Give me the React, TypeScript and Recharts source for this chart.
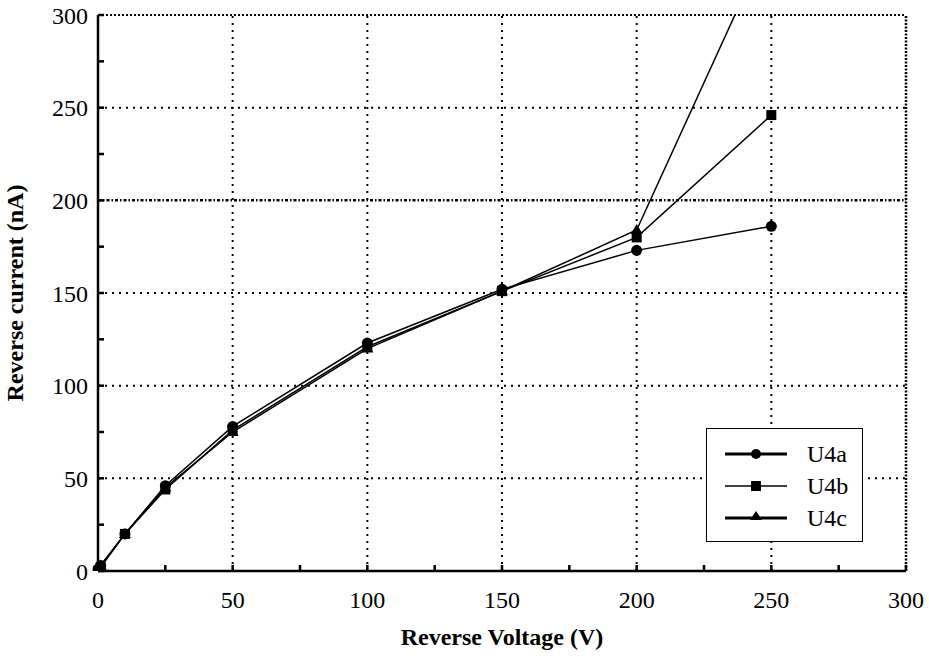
import React from "react";
import {
  LineChart,
  Line,
  XAxis,
  YAxis,
  ReferenceLine,
  Legend,
  Label,
} from "recharts";

// reverse voltage (V)
const voltage = [0, 1, 10, 25, 50, 100, 150, 200, 250];
// reverse current (nA)
const u4a = [1, 3, 20, 46, 78, 123, 152, 173, 186];
const u4b = [0, 2, 20, 44, 76, 121, 151, 180, 246];
const u4c = [1, 3, 20, 45, 75, 120, 151, 184, 343];

const axisTicks = [0, 25, 50, 75, 100, 125, 150, 175, 200, 225, 250, 275, 300];
const gridLines = [50, 100, 150, 250];

const data = voltage.map((v, i) => ({ v, u4a: u4a[i], u4b: u4b[i], u4c: u4c[i] }));

const FONT = "Times New Roman, Liberation Serif, DejaVu Serif, serif";

const Circle = (props: any) => {
  const { cx, cy } = props;
  if (cx == null || cy == null) return null;
  return <circle cx={cx} cy={cy} r={5.5} fill="#000" />;
};

const Square = (props: any) => {
  const { cx, cy } = props;
  if (cx == null || cy == null) return null;
  return <rect x={cx - 5} y={cy - 5} width={10} height={10} fill="#000" />;
};

const Triangle = (props: any) => {
  const { cx, cy } = props;
  if (cx == null || cy == null) return null;
  return <polygon points={`${cx},${cy - 6} ${cx + 6},${cy + 4} ${cx - 6},${cy + 4}`} fill="#000" />;
};

const legendItems = [
  { name: "U4a", width: 3, marker: "circle" },
  { name: "U4b", width: 1.5, marker: "square" },
  { name: "U4c", width: 3, marker: "triangle" },
];

const LegendBox = () => (
  <div
    style={{
      border: "1.5px solid #000",
      background: "#fff",
      width: 157,
      height: 114,
      boxSizing: "border-box",
      paddingTop: 9,
    }}
  >
    {legendItems.map((it) => (
      <div key={it.name} style={{ display: "flex", alignItems: "center", height: 32 }}>
        <svg width={100} height={20}>
          <line x1={18} y1={10} x2={80} y2={10} stroke="#000" strokeWidth={it.width} />
          {it.marker === "circle" && <circle cx={49} cy={10} r={5} fill="#000" />}
          {it.marker === "square" && <rect x={44} y={5} width={10} height={10} fill="#000" />}
          {it.marker === "triangle" && <polygon points="49,3 55,12 43,12" fill="#000" />}
        </svg>
        <span style={{ fontFamily: FONT, fontSize: 24, color: "#000" }}>{it.name}</span>
      </div>
    ))}
  </div>
);

export default function App() {
  const tickStyle = { fontFamily: FONT, fontSize: 24, fill: "#000" };
  const fmt = (t: number) => (t % 50 === 0 ? String(t) : "");
  return (
    <div style={{ position: "absolute", left: 0, top: 0, background: "#fff", fontFamily: FONT }}>
      <LineChart
        width={929}
        height={657}
        data={data}
        margin={{ top: 15, right: 23, left: 28, bottom: 0 }}
        style={{ fontFamily: FONT }}
      >
        <XAxis
          type="number"
          dataKey="v"
          domain={[0, 300]}
          ticks={axisTicks}
          interval={0}
          tickFormatter={fmt}
          tick={tickStyle}
          tickSize={-6}
          tickMargin={26}
          stroke="#000"
          strokeWidth={2.5}
          height={86}
        >
          <Label
            value="Reverse Voltage (V)"
            position="insideBottom"
            offset={12}
            style={{ fontFamily: FONT, fontSize: 24, fontWeight: "bold", fill: "#000" }}
          />
        </XAxis>
        <YAxis
          type="number"
          domain={[0, 300]}
          ticks={axisTicks}
          interval={0}
          allowDataOverflow
          tickFormatter={fmt}
          tick={tickStyle}
          tickSize={-6}
          tickMargin={16}
          stroke="#000"
          strokeWidth={2.5}
          width={70}
        >
          <Label
            value="Reverse current (nA)"
            angle={-90}
            position="insideLeft"
            offset={-14}
            style={{ fontFamily: FONT, fontSize: 24, fontWeight: "bold", fill: "#000", textAnchor: "middle" }}
          />
        </YAxis>
        {gridLines.map((g) => (
          <ReferenceLine key={`gx${g}`} x={g} stroke="#000" strokeWidth={2} strokeDasharray="2 5" />
        ))}
        {gridLines.map((g) => (
          <ReferenceLine key={`gy${g}`} y={g} stroke="#000" strokeWidth={2} strokeDasharray="2 5" />
        ))}
        <ReferenceLine x={200} stroke="#000" strokeWidth={2} strokeDasharray="2 5" />
        <ReferenceLine y={200} stroke="#000" strokeWidth={2.5} strokeDasharray="3 2 1.5 2" />
        <ReferenceLine y={300} stroke="#000" strokeWidth={2} strokeDasharray="2 2" />
        <ReferenceLine x={300} stroke="#000" strokeWidth={2.5} strokeDasharray="2 1.5" />
        <Line
          type="linear"
          dataKey="u4a"
          name="U4a"
          stroke="#000"
          strokeWidth={1.5}
          dot={<Circle />}
          activeDot={false}
          isAnimationActive={false}
        />
        <Line
          type="linear"
          dataKey="u4b"
          name="U4b"
          stroke="#000"
          strokeWidth={1.5}
          dot={<Square />}
          activeDot={false}
          isAnimationActive={false}
        />
        <Line
          type="linear"
          dataKey="u4c"
          name="U4c"
          stroke="#000"
          strokeWidth={1.5}
          dot={<Triangle />}
          activeDot={false}
          isAnimationActive={false}
        />
        <Legend
          layout="vertical"
          align="center"
          verticalAlign="middle"
          content={() => <LegendBox />}
          wrapperStyle={{ left: 706, top: 428, width: 157, height: 114 }}
        />
      </LineChart>
    </div>
  );
}
